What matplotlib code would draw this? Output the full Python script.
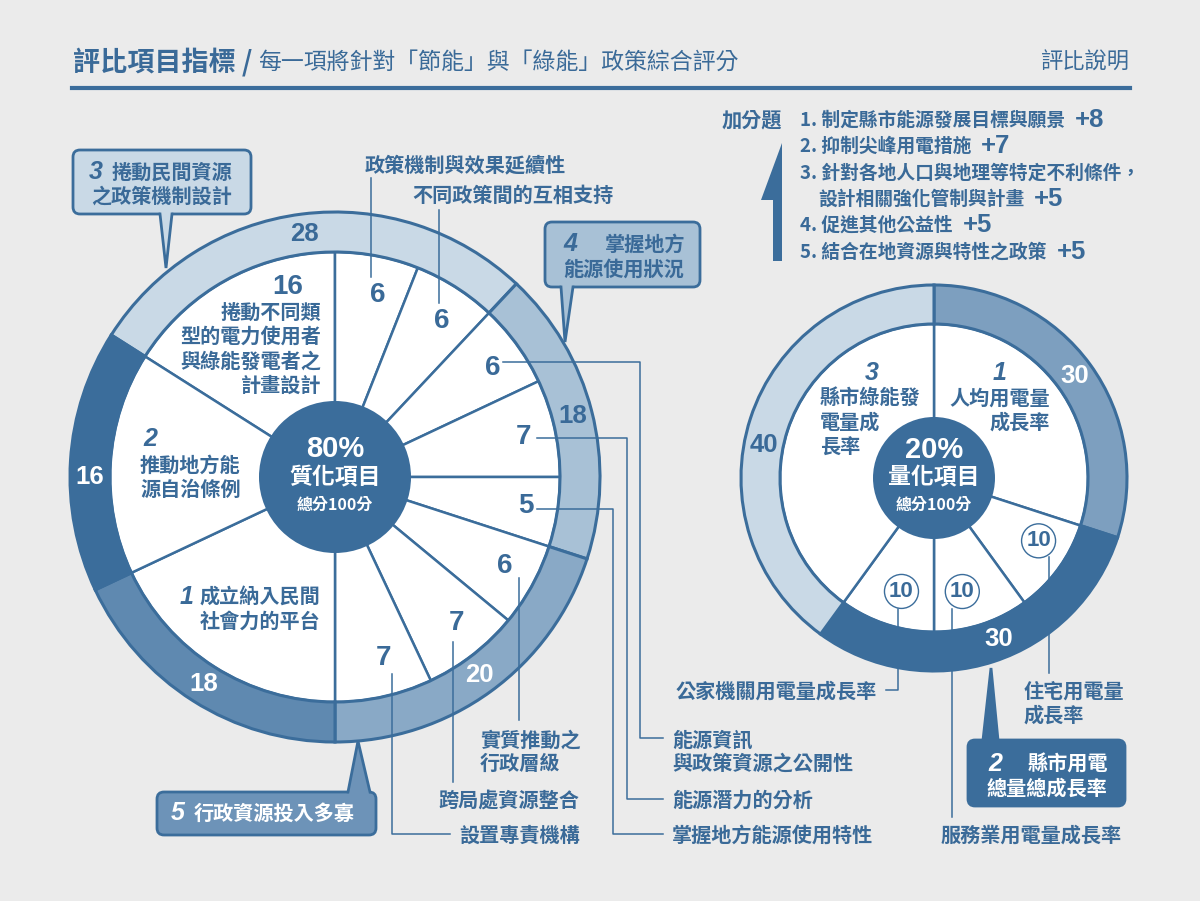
import matplotlib
matplotlib.use("Agg")
import matplotlib.pyplot as plt
from matplotlib.patches import Wedge, Circle, FancyBboxPatch, Polygon
import numpy as np

plt.rcParams["font.family"] = ["Noto Sans CJK TC", "DejaVu Sans"]
NUM = ["Liberation Sans", "DejaVu Sans"]

BG = "#ebebeb"
DARK = "#3b6d9b"
TXT = "#3a6a98"
LIGHT = "#c9d9e6"
MED_LIGHT = "#a8c1d6"
MED = "#89a9c6"
MED_DARK = "#5f89b0"
RIGHT_MED = "#7d9fbf"
BOX5 = "#6d93b8"

# ---- data ----
# left (質化) : clockwise, first item is group 3's big one (16)
left_inner_values = [16, 6, 6, 6, 7, 5, 6, 7, 7, 18, 16]
left_ring_values = [28, 18, 20, 18, 16]  # groups 3, 4, 5, 1, 2
left_item_names = ["政策機制與效果延續性", "不同政策間的互相支持",
                   "能源資訊\n與政策資源之公開性", "能源潛力的分析",
                   "掌握地方能源使用特性", "實質推動之\n行政層級",
                   "跨局處資源整合", "設置專責機構"]
# right (量化) : clockwise from 12 o'clock
right_inner_values = [30, 10, 10, 10, 40]
right_ring_values = [30, 30, 40]  # groups 1, 2, 3
right_item_names = ["住宅用電量\n成長率", "服務業用電量成長率", "公家機關用電量成長率"]

bonus_lines = ["1. 制定縣市能源發展目標與願景", "2. 抑制尖峰用電措施",
               "3. 針對各地人口與地理等特定不利條件，", "設計相關強化管制與計畫",
               "4. 促進其他公益性", "5. 結合在地資源與特性之政策"]
bonus_scores = ["+8", "+7", "", "+5", "+5", "+5"]

fig = plt.figure(figsize=(12, 9.01), dpi=100)
fig.patch.set_facecolor(BG)
ax = fig.add_axes([0, 0, 1, 1])
ax.set_xlim(0, 1200)
ax.set_ylim(901, 0)
ax.axis("off")


def polar(cx, cy, r, ang):
    a = np.radians(ang)
    return cx + r * np.sin(a), cy - r * np.cos(a)


def donut(cx, cy, r_in, r_out, r_mid, inner, ring, colors, start):
    e = start + 360 * np.concatenate([[0], np.cumsum(inner)]) / sum(inner)
    for a1, a2 in zip(e[:-1], e[1:]):
        ax.add_patch(Wedge((cx, cy), r_in, a1 - 90, a2 - 90, fc="white", ec=DARK, lw=1.8, zorder=2))
    re = start + 360 * np.concatenate([[0], np.cumsum(ring)]) / sum(ring)
    for a1, a2, c in zip(re[:-1], re[1:], colors):
        ax.add_patch(Wedge((cx, cy), r_out, a1 - 90, a2 - 90, width=r_out - r_in,
                           fc=c, ec=DARK, lw=2.2, zorder=2))
    ax.add_patch(Circle((cx, cy), r_mid, fc=DARK, ec="none", zorder=4))
    return e, re


def txt(x, y, s, size=14.5, color=TXT, ha="left", family=None, style="normal", weight="bold", z=8):
    kw = {}
    if family:
        kw["family"] = family
    return ax.text(x, y, s, fontsize=size, color=color, ha=ha, va="center",
                   fontweight=weight, style=style, zorder=z, **kw)


def lines(x, y0, dy, s, **kw):
    for i, t in enumerate(s.split("\n")):
        txt(x, y0 + i * dy, t, **kw)


def callout(x0, y0, x1, y1, fc, bx1, bx2, tip, up=False):
    ax.add_patch(FancyBboxPatch((x0, y0), x1 - x0, y1 - y0, boxstyle="round,pad=0,rounding_size=7",
                                fc=fc, ec=DARK, lw=2, zorder=5))
    by = y0 if up else y1
    inset = 3 if up else -3
    ax.add_patch(Polygon([(bx1, by + inset), tip, (bx2, by + inset)], closed=True,
                         fc=fc, ec="none", zorder=6))
    ax.plot([bx1, tip[0], bx2], [by, tip[1], by], color=DARK, lw=2, zorder=7,
            solid_joinstyle="miter")


# ---- header ----
txt(73, 62, "評比項目指標 /", size=19.5)
txt(258, 62, "每一項將針對「節能」與「綠能」政策綜合評分", size=16.5, weight="normal")
txt(1130, 62, "評比說明", size=16, weight="normal", ha="right")
ax.plot([72, 1130], [88, 88], color=DARK, lw=3)

# ---- left donut ----
LCX, LCY = 335, 477
start_l = -360 * left_inner_values[0] / sum(left_inner_values)
le, lre = donut(LCX, LCY, 225, 265, 76, left_inner_values, left_ring_values,
                [LIGHT, MED_LIGHT, MED, MED_DARK, DARK], start_l)

for i in range(1, 9):
    mid = (le[i] + le[i + 1]) / 2
    x, y = polar(LCX, LCY, 185, mid)
    txt(x, y, str(left_inner_values[i]), size=20, family=NUM)

left_ring_nudge = [0, 0, 0, 0, -3.6]
left_ring_colors = [TXT, TXT, "white", "white", "white"]
for i, v in enumerate(left_ring_values):
    mid = (lre[i] + lre[i + 1]) / 2 + left_ring_nudge[i]
    x, y = polar(LCX, LCY, 245, mid)
    txt(x, y, str(v), size=18.5, family=NUM, color=left_ring_colors[i], ha="center")

txt(288, 287, str(left_inner_values[0]), size=20, family=NUM, ha="center")
for i, s in enumerate(["捲動不同類", "型的電力使用者", "與綠能發電者之", "計畫設計"]):
    txt(321, 312 + i * 24.5, s, ha="right")
txt(150, 439, "2", size=18, family=NUM, style="italic", ha="center")
lines(140, 465, 24.5, "推動地方能\n源自治條例")
txt(187, 597, "1", size=18, family=NUM, style="italic", ha="center")
lines(200, 597, 24.5, "成立納入民間\n社會力的平台")

txt(LCX, 449, "80%", size=21, family=NUM, color="white", ha="center")
txt(LCX, 478, "質化項目", size=16.5, color="white", ha="center")
txt(LCX, 505, "總分100分", size=11.5, color="white", ha="center")

left_leaders = [
    [(371, 178), (371, 277)],
    [(439, 210), (439, 303)],
    [(503, 362), (640, 362), (640, 738), (663, 738)],
    [(537, 438), (627, 438), (627, 799), (663, 799)],
    [(537, 509), (613, 509), (613, 834), (663, 834)],
    [(519, 578), (519, 720)],
    [(453, 642), (453, 782)],
    [(392, 674), (392, 834), (450, 834)],
]
left_label_pos = [(365, 165), (412, 195), (672, 740), (672, 800), (672, 835),
                  (480, 740), (438, 800), (459, 835)]
for pts, (lx, ly), name in zip(left_leaders, left_label_pos, left_item_names):
    xs, ys = zip(*pts)
    ax.plot(xs, ys, color=DARK, lw=1.1, zorder=3)
    lines(lx, ly, 23.5, name)

# ---- right donut ----
RCX, RCY = 934, 478
re_, rre = donut(RCX, RCY, 154, 193, 61, right_inner_values, right_ring_values,
                 [RIGHT_MED, DARK, LIGHT], 0)
right_ring_nudge = [0, -4, -7]
right_ring_colors = ["white", "white", TXT]
for i, v in enumerate(right_ring_values):
    mid = (rre[i] + rre[i + 1]) / 2 + right_ring_nudge[i]
    x, y = polar(RCX, RCY, 173.5, mid)
    txt(x, y, str(v), size=18.5, family=NUM, color=right_ring_colors[i], ha="center")

txt(1000, 373, "1", size=18, family=NUM, style="italic", ha="center")
for i, s in enumerate(["人均用電量", "成長率"]):
    txt(1050, 398 + i * 24.5, s, ha="right")
txt(872, 373, "3", size=18, family=NUM, style="italic", ha="center")
lines(820, 398, 24.5, "縣市綠能發\n電量成\n長率")

txt(RCX, 450, "20%", size=21, family=NUM, color="white", ha="center")
txt(RCX, 478, "量化項目", size=16.5, color="white", ha="center")
txt(RCX, 505, "總分100分", size=11.5, color="white", ha="center")

# small "10" badges
badge_ang = [121, 166, 196]
badge_r = [122, 117, 118]
for k, i in enumerate(range(1, 4)):
    bx, by = polar(RCX, RCY, badge_r[k], badge_ang[k])
    ax.add_patch(Circle((bx, by), 17, fc="white", ec=DARK, lw=1, zorder=6))
    txt(bx, by, str(right_inner_values[i]), size=16, family=NUM, ha="center")

right_leaders = [
    [(1049, 557), (1049, 673)],
    [(952, 609), (952, 817)],
    [(898, 609), (898, 690), (886, 690)],
]
right_label_pos = [(1024, 691, "left"), (941, 835, "left"), (877, 691, "right")]
for pts, (lx, ly, ha), name in zip(right_leaders, right_label_pos, right_item_names):
    xs, ys = zip(*pts)
    ax.plot(xs, ys, color=DARK, lw=1.1, zorder=3)
    lines(lx, ly, 24, name, ha=ha)

# ---- callouts ----
callout(73, 150, 251, 214, LIGHT, 160, 172, (166, 268))
txt(96, 172, "3", size=18, family=NUM, style="italic", ha="center")
txt(112, 172, "捲動民間資源")
txt(162, 196, "之政策機制設計", ha="center")

callout(545, 222, 700, 287, MED_LIGHT, 561, 573, (565, 342))
txt(570, 244, "4", size=18, family=NUM, style="italic", ha="center")
txt(685, 244, "掌握地方", ha="right")
txt(624, 269, "能源使用狀況", ha="center")

callout(157, 792, 376, 835, BOX5, 348, 370, (358, 741), up=True)
txt(178, 813, "5", size=18, family=NUM, style="italic", ha="center", color="white")
txt(194, 813, "行政資源投入多寡", color="white")

callout(968, 740, 1125, 806, DARK, 983, 998, (991, 668), up=True)
txt(995, 764, "2", size=18, family=NUM, style="italic", ha="center", color="white")
txt(1108, 764, "縣市用電", ha="right", color="white")
txt(1047, 788, "總量總成長率", ha="center", color="white")

# ---- bonus list ----
txt(722, 120, "加分題", size=14.5)
ax.add_patch(Polygon([(782, 143), (782, 261), (773, 261), (773, 200), (761, 200)],
                     closed=True, fc=DARK, ec="none"))
bonus_y = [120, 146, 173, 199, 225, 252]
bonus_x = [800, 800, 800, 818, 800, 800]
items = []
for s, x, y in zip(bonus_lines, bonus_x, bonus_y):
    items.append(txt(x, y, s, size=13.5))

fig.canvas.draw()
rend = fig.canvas.get_renderer()
inv = ax.transData.inverted()
for t, sc, y in zip(items, bonus_scores, bonus_y):
    if sc:
        bb = t.get_window_extent(rend)
        xe = inv.transform((bb.x1, bb.y0))[0]
        txt(xe + 10, y, sc, size=18.5, family=NUM)

fig.savefig("out.png", dpi=100, facecolor=BG)
